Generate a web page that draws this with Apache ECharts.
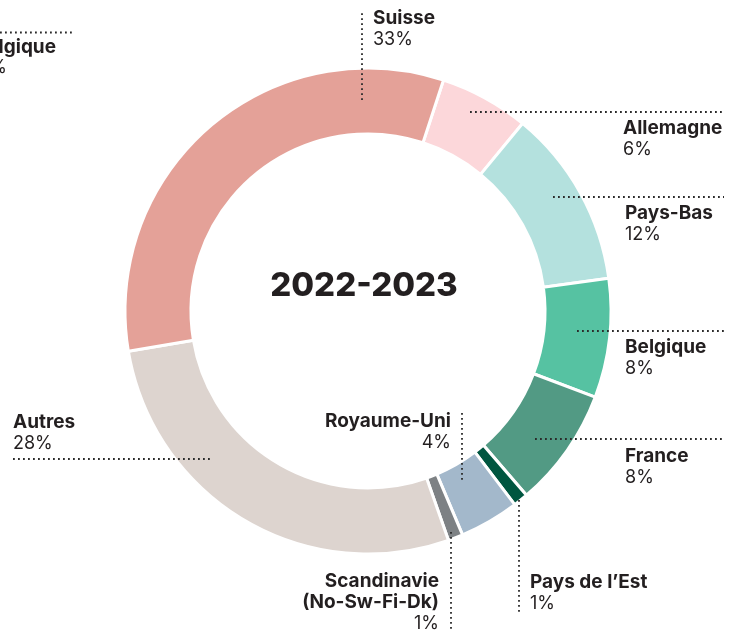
<!DOCTYPE html>
<html>
<head>
<meta charset="utf-8">
<script src="https://cdn.jsdelivr.net/npm/echarts@6/dist/echarts.min.js"></script>
<style>
  html, body { margin: 0; padding: 0; background: #fff; }
  #chart { width: 739px; height: 635px; }
</style>
</head>
<body>
<div id="chart"></div>
<script>
// data, clockwise from the top right
const categories = ['Allemagne', 'Pays-Bas', 'Belgique', 'France', 'Pays de l’Est', 'Royaume-Uni', 'Scandinavie\n(No-Sw-Fi-Dk)', 'Autres', 'Suisse'];
const shares = [6, 12, 8, 8, 1, 4, 1, 28, 33];
const colors = ['#fcd7da', '#b4e1de', '#56c2a2', '#529a84', '#005640', '#a3b8cb', '#7d8184', '#ddd4cf', '#e4a198'];
const period = '2022-2023';

// where each label and its dotted leader sit
const spots = [
  { x: 623, y: 118, align: 'left', line: [[470, 112], [724, 112]] },
  { x: 625, y: 203, align: 'left', line: [[553, 197], [724, 197]] },
  { x: 625, y: 337, align: 'left', line: [[577, 331], [724, 331]] },
  { x: 625, y: 446, align: 'left', line: [[535, 439], [724, 439]] },
  { x: 530, y: 572, align: 'left', line: [[519, 500], [519, 612]] },
  { x: 451, y: 411, align: 'right', line: [[462, 413], [462, 482]] },
  { x: 439, y: 571, align: 'right', line: [[451, 532], [451, 631]] },
  { x: 13, y: 412, align: 'left', line: [[13, 459], [213, 459]] },
  { x: 373, y: 8, align: 'left', line: [[362, 100], [362, 10]] }
];

const ink = '#231f20';
const font = 'Inter, "Noto Sans", sans-serif';
const dots = { stroke: '#2a2a2a', lineWidth: 1.8, lineDash: [1.8, 3.2] };

function richFor(align) {
  return {
    n: { fontFamily: font, fontWeight: 700, fontSize: 19, lineHeight: 21, color: ink, align: align },
    p: { fontFamily: font, fontWeight: 400, fontSize: 18, lineHeight: 21, color: ink, align: align }
  };
}

const pieData = categories.map((name, i) => ({
  name: name,
  value: shares[i],
  itemStyle: { color: colors[i] },
  label: { align: spots[i].align, rich: richFor(spots[i].align) }
}));

// dotted leaders, drawn over the ring
const leaders = spots.map(s => ({
  type: 'polyline', z: 100, silent: true,
  shape: { points: s.line },
  style: Object.assign({ fill: null }, dots)
}));

const myChart = echarts.init(document.getElementById('chart'));
myChart.setOption({
  animation: false,
  graphic: [
    {
      type: 'text', x: 364, y: 286,
      style: { text: period, font: '800 33px ' + font, fill: ink, align: 'center', verticalAlign: 'middle' }
    },
    // neighbouring chart, cut by the frame
    {
      type: 'text', x: 56, y: 38,
      style: { text: 'Belgique', font: '700 19px ' + font, fill: ink, align: 'right', verticalAlign: 'top' }
    },
    {
      type: 'text', x: 7, y: 59,
      style: { text: '8%', font: '400 18px ' + font, fill: ink, align: 'right', verticalAlign: 'top' }
    },
    {
      type: 'line', shape: { x1: 0, y1: 32.5, x2: 75, y2: 32.5 },
      style: dots
    }
  ].concat(leaders),
  series: [
    {
      type: 'pie',
      center: [368, 311],
      radius: [177, 243],
      startAngle: 71.9,
      clockwise: true,
      avoidLabelOverlap: false,
      silent: true,
      itemStyle: { borderColor: '#fff', borderWidth: 3 },
      label: {
        show: true,
        position: 'outside',
        overflow: 'none',
        formatter: function (p) {
          const lines = p.name.split('\n').map(s => '{n|' + s + '}');
          return lines.join('\n') + '\n{p|' + p.value + '%}';
        }
      },
      labelLine: { show: false },
      labelLayout: function (params) {
        const s = spots[params.dataIndex];
        return { x: s.x, y: s.y, align: s.align, verticalAlign: 'top' };
      },
      data: pieData
    }
  ]
});
window.addEventListener('resize', () => myChart.resize());
</script>
</body>
</html>
